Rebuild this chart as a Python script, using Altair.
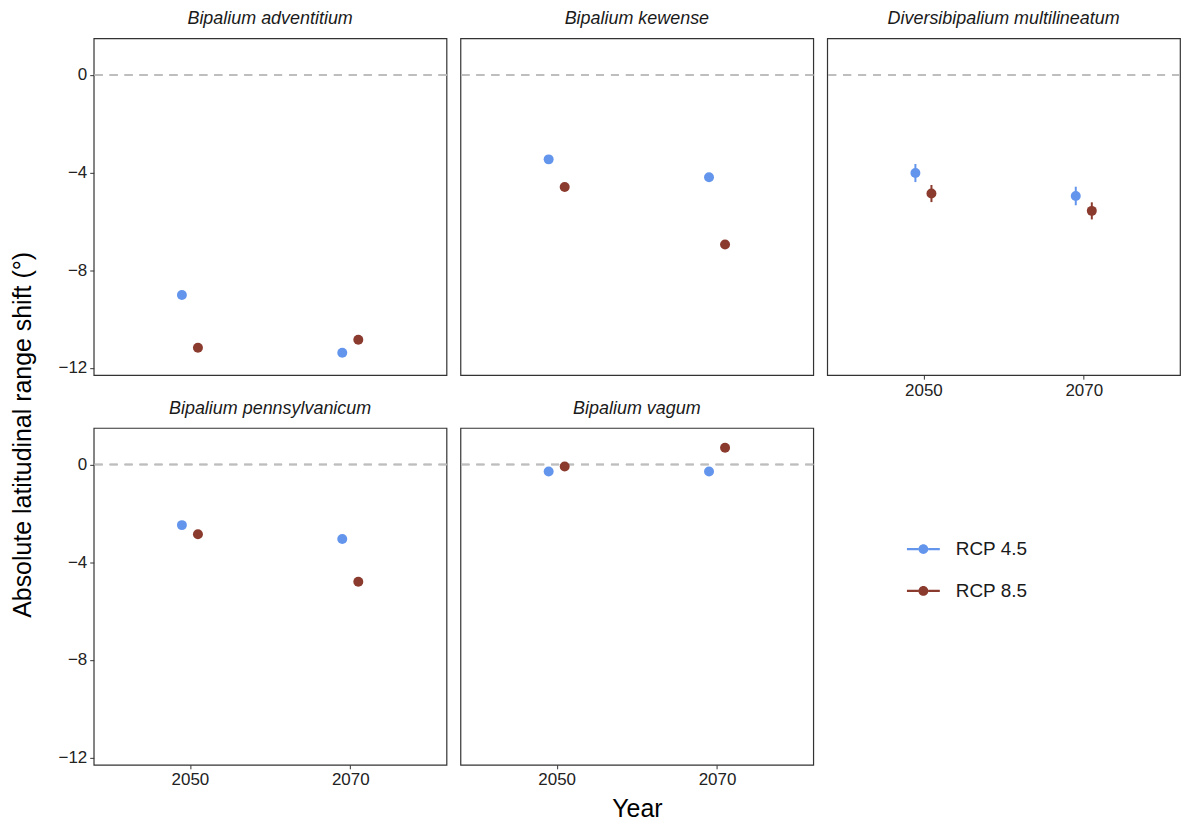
import altair as alt
import pandas as pd

species = ["Bipalium adventitium", "Bipalium kewense", "Diversibipalium multilineatum",
           "Bipalium pennsylvanicum", "Bipalium vagum"]
years = ["2050", "2050", "2070", "2070"]
rcps = ["RCP 4.5", "RCP 8.5", "RCP 4.5", "RCP 8.5"]
year_labels = ["2050", "2070"]

shift_adventitium = [-9.02, -11.18, -11.38, -10.85]
shift_kewense = [-3.46, -4.59, -4.19, -6.95]
shift_multilineatum = [-4.02, -4.86, -4.96, -5.57]
shift_pennsylvanicum = [-2.48, -2.85, -3.05, -4.80]
shift_vagum = [-0.28, -0.08, -0.28, 0.69]

err_adventitium = [0.08, 0.10, 0.08, 0.12]
err_kewense = [0.06, 0.06, 0.06, 0.06]
err_multilineatum = [0.37, 0.35, 0.38, 0.35]
err_pennsylvanicum = [0.12, 0.08, 0.15, 0.15]
err_vagum = [0.05, 0.05, 0.05, 0.05]

y_ticks = [0, -4, -8, -12]
y_title = ["Absolute latitudinal range shift (°)"]

all_shift = [shift_adventitium, shift_kewense, shift_multilineatum, shift_pennsylvanicum, shift_vagum]
all_err = [err_adventitium, err_kewense, err_multilineatum, err_pennsylvanicum, err_vagum]

rows = []
for sp, sh, er in zip(species, all_shift, all_err):
    for yr, rc, v, e in zip(years, rcps, sh, er):
        rows.append({"species": sp, "year": yr, "rcp": rc, "shift": v,
                     "lo": v - e, "hi": v + e})
df = pd.DataFrame(rows)

FONT = "Liberation Sans"
blue = "#6495ED"
red = "#8B3A2E"
W, H = 354, 338
YDOM = [-12.3, 1.5]

legend = alt.Legend(title=None, orient="none", legendX=902, legendY=496,
                    symbolType="M-1,-0.065L-0.3,-0.065L-0.3,0.065L-1,0.065Z "
                               "M0.3,-0.065L1,-0.065L1,0.065L0.3,0.065Z "
                               "M-0.3,0A0.3,0.3 0 1,1 0.3,0A0.3,0.3 0 1,1 -0.3,0Z",
                    symbolSize=1089, symbolStrokeWidth=0, symbolOpacity=1,
                    labelFontSize=19, labelFont=FONT, labelColor="#1a1a1a",
                    rowPadding=15, labelOffset=16)
color = alt.Color("rcp:N", scale=alt.Scale(domain=["RCP 4.5", "RCP 8.5"], range=[blue, red]),
                  legend=legend)


def make_x(show_x, xtitle):
    xs = alt.Scale(domain=[0.4, 2.6], nice=False, zero=False)
    if show_x:
        return alt.X("xpos:Q", scale=xs, axis=alt.Axis(
            title=xtitle, values=[1, 2], labelAngle=0,
            labelExpr="datum.value == 1 ? '%s' : '%s'" % tuple(year_labels)))
    return alt.X("xpos:Q", scale=xs, axis=None)


def make_y(field, show_y):
    ys = alt.Scale(domain=YDOM, nice=False, zero=False)
    if show_y:
        return alt.Y(field, scale=ys, axis=alt.Axis(title=None, values=y_ticks))
    return alt.Y(field, scale=ys, axis=None)


def panel(sp, show_x, show_y, xtitle=None):
    x = make_x(show_x, xtitle)
    base = alt.Chart(df).transform_filter(alt.datum.species == sp).transform_calculate(
        xpos="indexof(['2050', '2070'], datum.year) + 1 + (datum.rcp == 'RCP 4.5' ? -0.05 : 0.05)")
    ys = alt.Scale(domain=YDOM, nice=False, zero=False)
    zero_y = alt.Y(datum=0, scale=ys, axis=alt.Axis(title=None, values=y_ticks)) if show_y \
        else alt.Y(datum=0, scale=ys, axis=None)
    zero = base.mark_rule(color="#BEBEBE", strokeDash=[8, 7], strokeWidth=1.5).encode(y=zero_y)
    bars = base.mark_rule(strokeWidth=2).encode(
        x=x, y=make_y("lo:Q", show_y), y2="hi:Q", color=color)
    pts = base.mark_point(filled=True, size=100, opacity=1).encode(
        x=x, y=make_y("shift:Q", show_y), color=color)
    return alt.layer(zero, bars, pts).properties(
        width=W, height=H,
        title=alt.TitleParams(sp, fontStyle="italic", fontSize=18, font=FONT,
                              fontWeight="normal", color="#1a1a1a", offset=10))


row1 = alt.hconcat(panel(species[0], False, True), panel(species[1], False, False),
                   panel(species[2], True, False), spacing=10)
row2 = alt.hconcat(panel(species[3], True, True), panel(species[4], True, False, "Year"),
                   spacing=10)
grid = alt.vconcat(row1, row2, spacing=0)

ytitle = alt.Chart(pd.DataFrame({"t": y_title})).mark_text(
    angle=270, fontSize=25, font=FONT, color="#000000", align="center", baseline="middle"
).encode(text="t:N", x=alt.value(15), y=alt.value(398)).properties(
    width=30, height=794, view=alt.ViewBackground(strokeWidth=0))

chart = alt.hconcat(ytitle, grid, spacing=19).properties(
    padding={"left": 0, "top": 0, "right": 0, "bottom": 0}
).configure_view(
    stroke="#333333", strokeWidth=1.2
).configure_axis(
    grid=False, domain=False, tickColor="#333333", tickSize=4, labelFont=FONT,
    labelFontSize=17, labelColor="#222222", titleFont=FONT, titleFontSize=25,
    titleFontWeight="normal", titleColor="#000000", labelPadding=3, titlePadding=9
)

chart.save("out.html", embed_options={"renderer": "svg", "actions": False})
